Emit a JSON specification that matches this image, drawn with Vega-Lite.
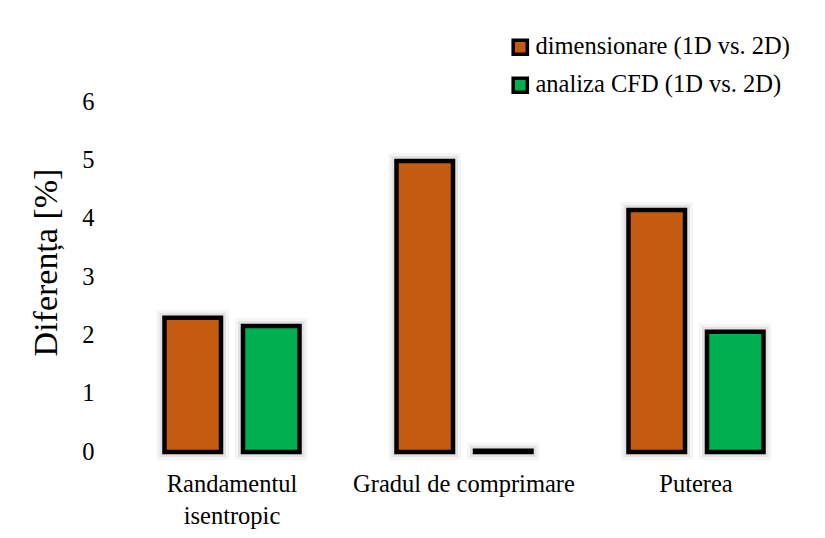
{
  "$schema": "https://vega.github.io/schema/vega-lite/v6.json",
  "width": 696,
  "height": 350,
  "autosize": {"type": "none"},
  "padding": {"left": 116, "top": 102, "right": 13, "bottom": 86},
  "background": "white",
  "config": {
    "font": "Liberation Serif",
    "view": {"stroke": null}
  },
  "data": {
    "values": [
      {"categorie": "Randamentul isentropic", "serie": "dimensionare (1D vs. 2D)", "valoare": 2.30},
      {"categorie": "Randamentul isentropic", "serie": "analiza CFD (1D vs. 2D)", "valoare": 2.16},
      {"categorie": "Gradul de comprimare", "serie": "dimensionare (1D vs. 2D)", "valoare": 4.99},
      {"categorie": "Gradul de comprimare", "serie": "analiza CFD (1D vs. 2D)", "valoare": 0.02},
      {"categorie": "Puterea", "serie": "dimensionare (1D vs. 2D)", "valoare": 4.15},
      {"categorie": "Puterea", "serie": "analiza CFD (1D vs. 2D)", "valoare": 2.06}
    ]
  },
  "encoding": {
    "x": {
      "field": "categorie",
      "type": "nominal",
      "sort": ["Randamentul isentropic", "Gradul de comprimare", "Puterea"],
      "scale": {"paddingInner": 0.418, "paddingOuter": 0.209},
      "axis": {
        "title": null,
        "domain": false,
        "ticks": false,
        "labelAngle": 0,
        "labelFontSize": 24.5,
        "labelColor": "black",
        "labelPadding": 20,
        "labelLineHeight": 32,
        "labelBaseline": "top",
        "labelLimit": 400,
        "labelOverlap": false,
        "labelExpr": "datum.label == 'Randamentul isentropic' ? ['Randamentul', 'isentropic'] : datum.label"
      }
    },
    "xOffset": {
      "field": "serie",
      "type": "nominal",
      "sort": ["dimensionare (1D vs. 2D)", "analiza CFD (1D vs. 2D)"],
      "scale": {"paddingInner": 0.28, "paddingOuter": 0}
    },
    "y": {
      "field": "valoare",
      "type": "quantitative",
      "scale": {"domain": [0, 6], "nice": false},
      "axis": {
        "title": "Diferența [%]",
        "titleFontSize": 34,
        "titleFontWeight": "normal",
        "titleColor": "black",
        "titlePadding": 18,
        "titleY": 160,
        "domain": false,
        "ticks": false,
        "grid": false,
        "values": [0, 1, 2, 3, 4, 5, 6],
        "labelOverlap": false,
        "labelFontSize": 24.5,
        "labelColor": "black",
        "labelPadding": 22
      }
    }
  },
  "layer": [
    {
      "mark": {"type": "bar", "fill": null, "stroke": "#000", "strokeOpacity": 0.04, "strokeWidth": 16, "xOffset": 2}
    },
    {
      "mark": {"type": "bar", "fill": null, "stroke": "#000", "strokeOpacity": 0.07, "strokeWidth": 10, "xOffset": 1}
    },
    {
      "mark": {"type": "bar", "stroke": "black", "strokeWidth": 4.5},
      "encoding": {
        "color": {
          "field": "serie",
          "type": "nominal",
          "sort": ["dimensionare (1D vs. 2D)", "analiza CFD (1D vs. 2D)"],
          "scale": {"range": ["#C55A11", "#00B050"]},
          "legend": {
            "title": null,
            "orient": "none",
            "legendX": 392,
            "legendY": -67,
            "symbolType": "square",
            "symbolSize": 200,
            "symbolStrokeColor": "black",
            "symbolStrokeWidth": 3.5,
            "symbolOpacity": 1,
            "labelFontSize": 24.5,
            "labelColor": "black",
            "labelOffset": 3,
            "labelLimit": 400,
            "rowPadding": 9
          }
        }
      }
    }
  ]
}
